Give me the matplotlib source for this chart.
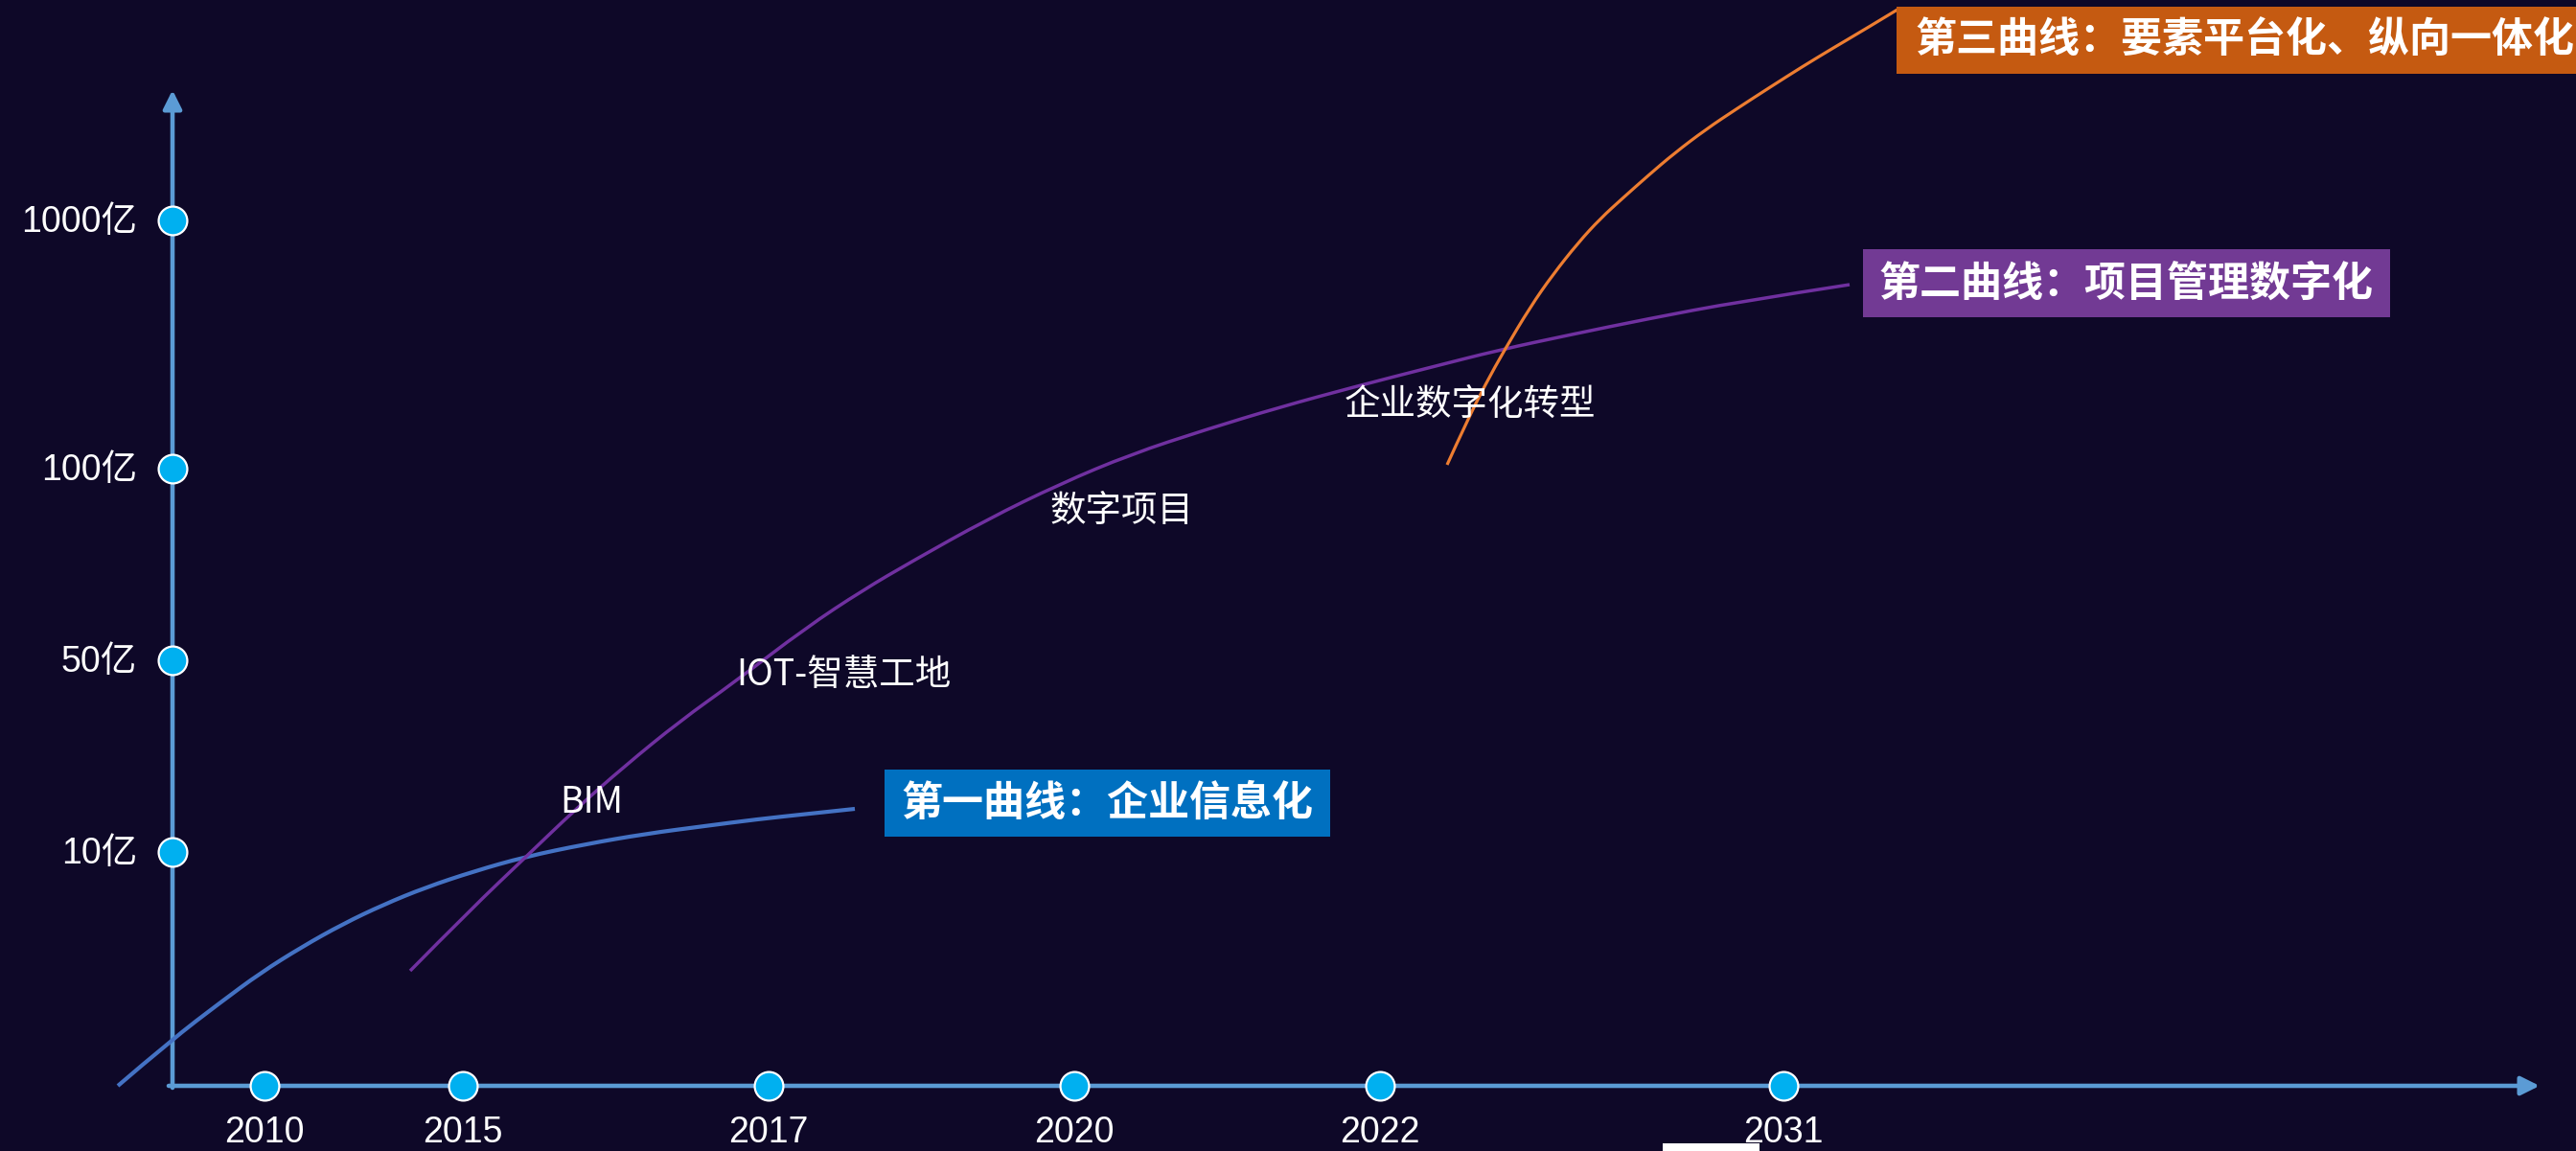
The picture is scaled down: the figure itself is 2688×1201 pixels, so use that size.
import matplotlib.pyplot as plt
from matplotlib.patches import Rectangle, PathPatch
from matplotlib.path import Path

# axis ticks (chart frame: x to the right, y downward, same scale as the picture)
years = ['2010', '2015', '2017', '2020', '2022', '2031']
year_pos = [276, 483, 802, 1121, 1440, 1861]
value_labels = ['1000亿', '100亿', '50亿', '10亿']
value_pos = [230, 489, 689, 889]

# the three growth curves
curve1_x = [123, 179, 230, 272, 315, 358, 400, 444, 495, 548, 610, 674, 735, 789, 845, 892]
curve1_y = [1133, 1085, 1046, 1015, 988, 964, 944, 926, 909, 894, 881, 870, 862, 855, 849, 844]

curve2_x = [428, 490, 553, 600, 651, 710, 766, 841, 900, 953, 1030, 1106, 1180, 1259,
            1335, 1412, 1490, 1565, 1640, 1718, 1813, 1930]
curve2_y = [1013, 950, 890, 845, 800, 752, 712, 655, 616, 585, 542, 505, 474, 448,
            425, 404, 384, 365, 349, 333, 315, 297]

curve3_x = [1510, 1530, 1550, 1570, 1597, 1620, 1647, 1670, 1693, 1720, 1747, 1780,
            1813, 1847, 1880, 1913, 1947, 1980]
curve3_y = [485, 441, 401, 365, 320, 287, 253, 228, 207, 183, 160, 135,
            113, 91, 70, 50, 30, 10]

# milestone labels along the curves
stage_labels = ['BIM', 'IOT-智慧工地', '数字项目', '企业数字化转型']
stage_pos = [(617, 837), (880, 704), (1171, 533), (1534, 422)]

BG = '#0E0828'
AXIS = '#5B9BD5'
DOT = '#00B0F0'
CJK = ['Noto Sans CJK SC', 'DejaVu Sans']
NUM = ['Liberation Sans', 'Noto Sans CJK SC']


def smooth_path(xs, ys):
    # quadratic B-spline through the read points (midpoints on the curve)
    pts = list(zip(xs, ys))
    verts = [pts[0]]
    codes = [Path.MOVETO]
    for i in range(1, len(pts) - 1):
        if i < len(pts) - 2:
            end = ((pts[i][0] + pts[i + 1][0]) / 2, (pts[i][1] + pts[i + 1][1]) / 2)
        else:
            end = pts[-1]
        verts += [pts[i], end]
        codes += [Path.CURVE3, Path.CURVE3]
    return Path(verts, codes)


fig = plt.figure(figsize=(26.88, 12.01), dpi=100, facecolor=BG)
ax = fig.add_axes([0, 0, 1, 1])
ax.set_facecolor(BG)
ax.set_xlim(0, 2688)
ax.set_ylim(1201, 0)
ax.axis('off')

# axes with arrow heads
arrow = dict(arrowstyle='-|>,head_length=0.4,head_width=0.2', mutation_scale=29,
             lw=3.3, color=AXIS, shrinkA=0, shrinkB=0)
ax.annotate('', xy=(180, 94), xytext=(180, 1135), arrowprops=arrow)
ax.annotate('', xy=(2650, 1133), xytext=(176, 1133), arrowprops=arrow)

# curves
for xs, ys, color, lw in [(curve1_x, curve1_y, '#4472C4', 3.0),
                          (curve2_x, curve2_y, '#7030A0', 2.5),
                          (curve3_x, curve3_y, '#ED7D31', 2.3)]:
    ax.add_patch(PathPatch(smooth_path(xs, ys), facecolor='none', edgecolor=color,
                           lw=lw, capstyle='butt', zorder=3))

# tick dots
ax.plot(year_pos, [1133] * len(year_pos), 'o', ms=21.5, mfc=DOT, mec='white', mew=1.6,
        ls='none', zorder=5)
ax.plot([180] * len(value_pos), value_pos, 'o', ms=21.5, mfc=DOT, mec='white', mew=1.6,
        ls='none', zorder=5)

for lab, x in zip(years, year_pos):
    ax.text(x, 1182, lab, ha='center', va='center', fontsize=27, color='white', family=NUM)
for lab, y in zip(value_labels, value_pos):
    ax.text(143, y + 2, lab, ha='right', va='center', fontsize=27, color='white', family=NUM)

for lab, (x, y) in zip(stage_labels, stage_pos):
    ax.text(x, y, lab, ha='center', va='center', fontsize=27, color='white', family=CJK,
            zorder=4)

# curve title boxes
boxes = [
    ('第一曲线：企业信息化', (923, 803, 465, 70), '#0070C0', 'center'),
    ('第二曲线：项目管理数字化', (1944, 260, 550, 71), '#723A94', 'center'),
    ('第三曲线：要素平台化、纵向一体化', (1979, 7, 760, 70), '#C55A11', 'left'),
]
for text, (x, y, w, h), color, align in boxes:
    ax.add_patch(Rectangle((x, y), w, h, facecolor=color, edgecolor='none', zorder=6))
    tx = x + w / 2 if align == 'center' else x + 19
    ax.text(tx, y + h / 2, text, ha=align, va='center', fontsize=31, fontweight='bold',
            color='white', family=CJK, zorder=7)

# cropped watermark tab at the bottom edge
ax.add_patch(Rectangle((1735, 1193), 101, 10, facecolor='white', edgecolor='none', zorder=6))

fig.savefig('out.png', dpi=100, facecolor=BG)
